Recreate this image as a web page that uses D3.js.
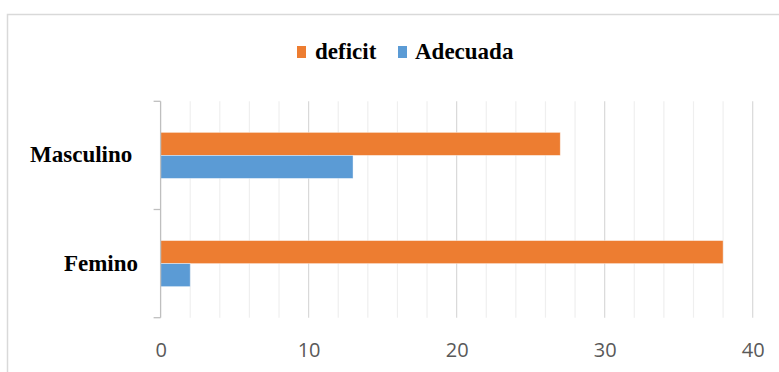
<!DOCTYPE html>
<html>
<head>
<meta charset="utf-8">
<script src="https://cdn.jsdelivr.net/npm/d3@7"></script>
<style>
  html, body { margin: 0; padding: 0; background: #fff; }
  svg { display: block; }
</style>
</head>
<body>
<svg id="chart" width="779" height="372"></svg>
<script>
// Categories (top to bottom) and series values
const categories = ["Masculino ", "Femino"];
const seriesNames = ["deficit", "Adecuada"];
const deficitValues = [27, 38];
const adecuadaValues = [13, 2];
const xTicks = [0, 10, 20, 30, 40];
const minorTicks = [2, 4, 6, 8, 12, 14, 16, 18, 22, 24, 26, 28, 32, 34, 36, 38];
const colors = ["#ED7D31", "#5B9BD5"];

const series = [deficitValues, adecuadaValues];

const svg = d3.select("#chart");

// Chart area frame
svg.append("rect")
  .attr("x", 7.5).attr("y", 14.5)
  .attr("width", 800).attr("height", 400)
  .attr("fill", "#fff").attr("stroke", "#d9d9d9").attr("stroke-width", 1.5);

const plot = { left: 160.6, right: 752.7, top: 101.3, bottom: 317.7 };

const x = d3.scaleLinear().domain([0, 40]).range([plot.left, plot.right]);
const y = d3.scaleBand().domain(categories).range([plot.top, plot.bottom]).padding(0);
const ySub = d3.scaleBand().domain(seriesNames).range([0, y.bandwidth()])
  .paddingInner(0).paddingOuter(1.35);

// Minor gridlines
svg.append("g").selectAll("line").data(minorTicks).join("line")
  .attr("x1", d => x(d)).attr("x2", d => x(d))
  .attr("y1", plot.top).attr("y2", plot.bottom)
  .attr("stroke", "#efefef").attr("stroke-width", 1.2);

// Major gridlines
svg.append("g").selectAll("line").data(xTicks.slice(1)).join("line")
  .attr("x1", d => x(d)).attr("x2", d => x(d))
  .attr("y1", plot.top).attr("y2", plot.bottom)
  .attr("stroke", "#d9d9d9").attr("stroke-width", 1.2);

// Bars
const groups = svg.append("g").selectAll("g").data(categories).join("g")
  .attr("transform", d => `translate(0,${y(d)})`);
groups.selectAll("rect")
  .data((c, i) => seriesNames.map((s, j) => ({ s, v: series[j][i], j })))
  .join("rect")
  .attr("x", x(0))
  .attr("y", d => ySub(d.s))
  .attr("width", d => x(d.v) - x(0))
  .attr("height", ySub.bandwidth())
  .attr("fill", d => colors[d.j])
  .attr("stroke", "#fff").attr("stroke-opacity", 0.5).attr("stroke-width", 0.8);

// Category axis
const yAxis = svg.append("g").attr("transform", `translate(${plot.left},0)`);
yAxis.append("line")
  .attr("x1", 0).attr("x2", 0).attr("y1", plot.top).attr("y2", plot.bottom)
  .attr("stroke", "#bfbfbf").attr("stroke-width", 1.3);
const catEdges = categories.map(c => y(c)).concat([plot.bottom]);
yAxis.selectAll("line.tick").data(catEdges).join("line")
  .attr("class", "tick")
  .attr("x1", -7).attr("x2", 0).attr("y1", d => d).attr("y2", d => d)
  .attr("stroke", "#bfbfbf").attr("stroke-width", 1.3);

svg.append("g").selectAll("text").data(categories).join("text")
  .attr("x", 138)
  .attr("y", d => y(d) + y.bandwidth() / 2 + 7)
  .attr("text-anchor", "end")
  .style("white-space", "pre")
  .attr("font-family", "'Liberation Serif', 'Times New Roman', serif")
  .attr("font-weight", "bold")
  .attr("font-size", 23)
  .attr("fill", "#000")
  .text(d => d);

// Value axis labels
const xAxis = svg.append("g")
  .attr("transform", `translate(0,${plot.bottom})`)
  .call(d3.axisBottom(x).tickValues(xTicks).tickSize(0).tickPadding(0));
xAxis.select(".domain").remove();
xAxis.selectAll("text")
  .attr("y", 39)
  .attr("dy", 0)
  .attr("font-family", "'Open Sans', Carlito, sans-serif")
  .attr("font-size", 20)
  .attr("fill", "#595959");

// Legend
const legend = svg.append("g");
const legendItems = [
  { name: seriesNames[0], color: colors[0], box: 297, text: 315 },
  { name: seriesNames[1], color: colors[1], box: 398, text: 415 }
];
legendItems.forEach(it => {
  legend.append("rect")
    .attr("x", it.box).attr("y", 46).attr("width", 9).attr("height", 12)
    .attr("fill", it.color);
  legend.append("text")
    .attr("x", it.text).attr("y", 59)
    .attr("font-family", "'Liberation Serif', 'Times New Roman', serif")
    .attr("font-weight", "bold")
    .attr("font-size", 23)
    .attr("fill", "#000")
    .text(it.name);
});
</script>
</body>
</html>
